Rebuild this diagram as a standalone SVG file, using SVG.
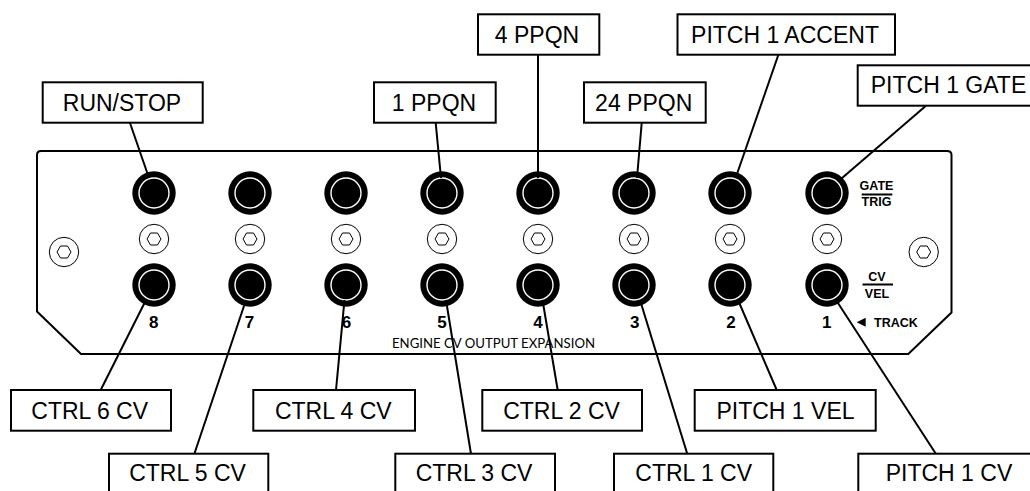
<svg xmlns="http://www.w3.org/2000/svg" xmlns:xlink="http://www.w3.org/1999/xlink" width="1030" height="491" viewBox="0 0 1030 491">
<style>
text{font-family:"Liberation Sans",Arial,sans-serif;fill:#000}
.box{fill:#fff;stroke:#000;stroke-width:2}
.lbl{font-size:23px;text-anchor:middle}
.pn{font-size:17px;font-weight:bold;text-anchor:middle}
.sm{font-size:12.500px;font-weight:bold;text-anchor:middle}
.ln{stroke:#000;stroke-width:2;fill:none}
.thin{fill:#fff;stroke:#000;stroke-width:1}
</style>
<defs>
<g id="jack"><circle r="21.7" fill="#000"/><circle r="15" fill="#000" stroke="#fff" stroke-width="1.4"/></g>
<g id="screw"><circle r="14.7" class="thin"/><polygon points="-7,0 -3.5,-6 3.5,-6 7,0 3.5,6 -3.5,6" class="thin"/></g>
</defs>
<rect width="1030" height="491" fill="#fff"/>
<g id="panel">
<path d="M41 151H947Q951.500 151 951.500 155V312.500L908.300 354H81L37 311.500V155Q37 151 41 151Z" fill="#fff" stroke="#000" stroke-width="2"/>
<text x="493.500" y="348" font-size="13.500" text-anchor="middle" style="font-family:Lato,'Liberation Sans',sans-serif" textLength="203" lengthAdjust="spacingAndGlyphs">ENGINE CV OUTPUT EXPANSION</text>
<use xlink:href="#screw" x="64" y="252"/><use xlink:href="#screw" x="923.700" y="252"/>
<text class="sm" x="876.500" y="189.500">GATE</text><rect x="861.700" y="193.500" width="30.600" height="2"/><text class="sm" x="876.500" y="206">TRIG</text>
<text class="sm" x="877" y="281">CV</text><rect x="862.500" y="283.500" width="30.500" height="2"/><text class="sm" x="877" y="297.700">VEL</text>
<polygon points="856.700,322.200 865.700,317.700 865.700,326.700"/>
<text x="874" y="326.700" font-size="12.500" font-weight="bold">TRACK</text>
<text class="pn" x="153.700" y="328">8</text><text class="pn" x="249.500" y="328">7</text><text class="pn" x="346.500" y="328">6</text><text class="pn" x="442" y="328">5</text><text class="pn" x="538" y="328">4</text><text class="pn" x="634.700" y="328">3</text><text class="pn" x="731" y="328">2</text><text class="pn" x="826.700" y="328">1</text>
</g>
<g id="jacks">
<g id="jacks-top"><use xlink:href="#jack" x="154" y="193"/><use xlink:href="#jack" x="250" y="193"/><use xlink:href="#jack" x="346" y="193"/><use xlink:href="#jack" x="442" y="193"/><use xlink:href="#jack" x="538" y="193"/><use xlink:href="#jack" x="634" y="193"/><use xlink:href="#jack" x="730" y="193"/><use xlink:href="#jack" x="827" y="193"/></g>
<g id="screws"><use xlink:href="#screw" x="154" y="239"/><use xlink:href="#screw" x="250" y="239"/><use xlink:href="#screw" x="346" y="239"/><use xlink:href="#screw" x="442" y="239"/><use xlink:href="#screw" x="538" y="239"/><use xlink:href="#screw" x="634" y="239"/><use xlink:href="#screw" x="730" y="239"/><use xlink:href="#screw" x="827" y="239"/></g>
<g id="jacks-bottom"><use xlink:href="#jack" x="154" y="285"/><use xlink:href="#jack" x="250" y="285"/><use xlink:href="#jack" x="346" y="285"/><use xlink:href="#jack" x="442" y="285"/><use xlink:href="#jack" x="538" y="285"/><use xlink:href="#jack" x="634" y="285"/><use xlink:href="#jack" x="730" y="285"/><use xlink:href="#jack" x="827" y="285"/></g>
</g>
<g id="connectors" class="ln">
<line x1="130" y1="123" x2="149" y2="178"/>
<line x1="435.700" y1="123" x2="441" y2="178"/>
<line x1="538" y1="54" x2="538" y2="178"/>
<line x1="641.700" y1="123" x2="637" y2="178"/>
<line x1="778.300" y1="55" x2="735.600" y2="178"/>
<line x1="925.700" y1="106" x2="838" y2="181.500"/>
<line x1="100.700" y1="390" x2="146" y2="300"/>
<line x1="194.300" y1="454" x2="246" y2="300"/>
<line x1="336" y1="390" x2="344.500" y2="300"/>
<line x1="471" y1="454" x2="446" y2="300"/>
<line x1="557.700" y1="390" x2="542.500" y2="300"/>
<line x1="687.300" y1="454" x2="640" y2="300"/>
<line x1="776.700" y1="390" x2="738" y2="300"/>
<line x1="936" y1="454" x2="836" y2="300"/>
</g>
<g id="n-run"><rect class="box" x="42.700" y="82.300" width="160" height="40.400"/><text class="lbl" x="122" y="110.700">RUN/STOP</text></g>
<g id="n-1ppqn"><rect class="box" x="374" y="82.300" width="121.700" height="40.400"/><text class="lbl" x="434" y="110.700">1 PPQN</text></g>
<g id="n-4ppqn"><rect class="box" x="478" y="14.300" width="121.300" height="40.400"/><text class="lbl" x="537" y="42.700">4 PPQN</text></g>
<g id="n-24ppqn"><rect class="box" x="584" y="82.300" width="121.700" height="40.400"/><text class="lbl" x="643.700" y="110.700">24 PPQN</text></g>
<g id="n-accent"><rect class="box" x="677.500" y="14.300" width="217.500" height="40.400"/><text class="lbl" x="785" y="42.700">PITCH 1 ACCENT</text></g>
<g id="n-gate"><rect class="box" x="857.700" y="65.300" width="190" height="40.400"/><text class="lbl" x="948.500" y="93.300">PITCH 1 GATE</text></g>
<g id="n-c6"><rect class="box" x="11" y="390" width="160" height="40.700"/><text class="lbl" x="89.700" y="418.700">CTRL 6 CV</text></g>
<g id="n-c5"><rect class="box" x="109" y="453.700" width="159.300" height="50"/><text class="lbl" x="187.500" y="480.700">CTRL 5 CV</text></g>
<g id="n-c4"><rect class="box" x="253.300" y="390" width="161.700" height="40.700"/><text class="lbl" x="333.300" y="418.700">CTRL 4 CV</text></g>
<g id="n-c3"><rect class="box" x="395.300" y="453.700" width="159.700" height="50"/><text class="lbl" x="474" y="480.700">CTRL 3 CV</text></g>
<g id="n-c2"><rect class="box" x="482.300" y="390" width="159.700" height="40.700"/><text class="lbl" x="561.500" y="418.700">CTRL 2 CV</text></g>
<g id="n-c1"><rect class="box" x="614" y="453.700" width="159.300" height="50"/><text class="lbl" x="693.700" y="480.700">CTRL 1 CV</text></g>
<g id="n-vel"><rect class="box" x="694.700" y="390" width="181" height="40.700"/><text class="lbl" x="785.500" y="418.700">PITCH 1 VEL</text></g>
<g id="n-cv"><rect class="box" x="858.300" y="453.700" width="190" height="50"/><text class="lbl" x="949" y="480.700">PITCH 1 CV</text></g>
</svg>
